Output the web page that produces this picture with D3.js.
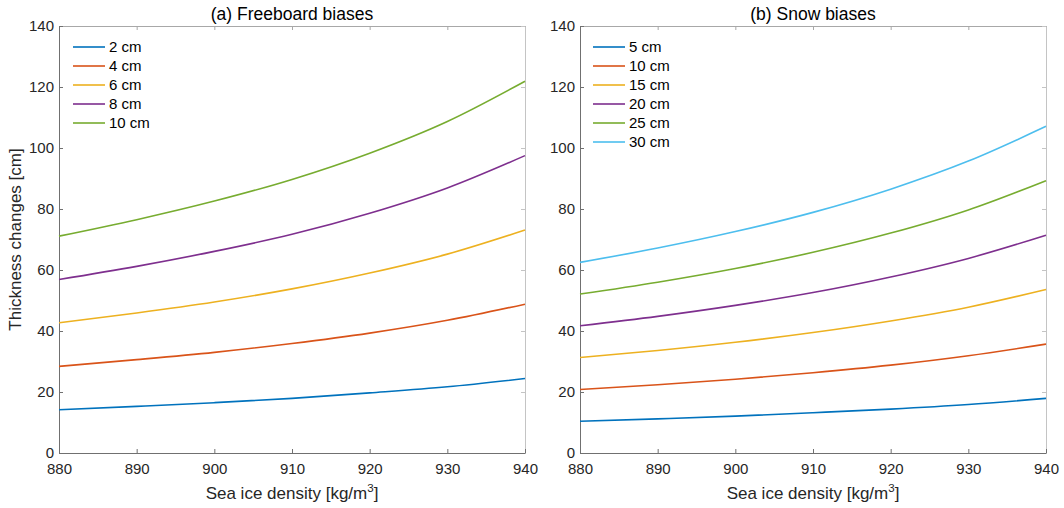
<!DOCTYPE html>
<html>
<head>
<meta charset="utf-8">
<script src="https://cdn.jsdelivr.net/npm/d3@7"></script>
<style>
  body { margin: 0; background: #fff; }
  svg { font-family: "Liberation Sans", Arial, Helvetica, sans-serif; }
  .axis text { fill: #262626; font-size: 15px; }
</style>
</head>
<body>
<div id="chart"></div>
<script>
// sea ice density sample points (kg/m3)
const density = [880, 890, 900, 910, 920, 930, 940];

// (a) freeboard biases
const freeboardLabels = ["2 cm", "4 cm", "6 cm", "8 cm", "10 cm"];
const fb2 = [14.2, 15.3, 16.5, 17.9, 19.7, 21.7, 24.4];
const fb4 = [28.4, 30.6, 33.0, 35.9, 39.3, 43.5, 48.8];
const fb6 = [42.7, 45.9, 49.5, 53.8, 59.0, 65.2, 73.1];
const fb8 = [56.9, 61.2, 66.1, 71.7, 78.6, 86.9, 97.5];
const fb10 = [71.1, 76.5, 82.6, 89.7, 98.3, 108.7, 121.9];

// (b) snow biases
const snowLabels = ["5 cm", "10 cm", "15 cm", "20 cm", "25 cm", "30 cm"];
const sn5 = [10.4, 11.2, 12.1, 13.2, 14.4, 15.9, 17.9];
const sn10 = [20.8, 22.4, 24.2, 26.3, 28.8, 31.9, 35.7];
const sn15 = [31.3, 33.6, 36.3, 39.5, 43.3, 47.8, 53.6];
const sn20 = [41.7, 44.8, 48.4, 52.6, 57.7, 63.8, 71.4];
const sn25 = [52.1, 56.0, 60.5, 65.8, 72.1, 79.7, 89.3];
const sn30 = [62.5, 67.2, 72.6, 78.9, 86.5, 95.7, 107.1];

const xTicks = [880, 890, 900, 910, 920, 930, 940];
const yTicks = [0, 20, 40, 60, 80, 100, 120, 140];
const colors = ["#0072BD", "#D95319", "#EDB120", "#7E2F8E", "#77AC30", "#4DBEEE"];

const W = 1064, H = 508;
const svg = d3.select("#chart").append("svg").attr("width", W).attr("height", H);

const plotTop = 26, plotBottom = 453;
const panels = [
    { left: 59, right: 525, title: "(a) Freeboard biases", labels: freeboardLabels,
      series: [fb2, fb4, fb6, fb8, fb10], legendX: 73 },
    { left: 580, right: 1046, title: "(b) Snow biases", labels: snowLabels,
      series: [sn5, sn10, sn15, sn20, sn25, sn30], legendX: 593 }
];

const y = d3.scaleLinear().domain([0, 140]).range([plotBottom, plotTop]);

panels.forEach((p, pi) => {
    const x = d3.scaleLinear().domain([880, 940]).range([p.left, p.right]);
    const g = svg.append("g");

    // box: top and right (lighter)
    g.append("g").attr("class", "axis").attr("transform", `translate(0,${plotTop})`)
        .call(d3.axisTop(x).tickValues(xTicks).tickSizeInner(-4).tickSizeOuter(0).tickFormat(""))
        .call(s => s.selectAll("path,line").attr("stroke", "#a8a8a8"));
    g.append("g").attr("class", "axis").attr("transform", `translate(${p.right},0)`)
        .call(d3.axisRight(y).tickValues(yTicks).tickSizeInner(-4).tickSizeOuter(0).tickFormat(""))
        .call(s => s.selectAll("path,line").attr("stroke", "#c4c4c4"));

    // bottom and left axes
    g.append("g").attr("class", "axis").attr("transform", `translate(0,${plotBottom})`)
        .call(d3.axisBottom(x).tickValues(xTicks).tickSizeInner(-4).tickSizeOuter(0).tickPadding(10))
        .call(s => s.selectAll("path,line").attr("stroke", "#707070"));
    g.append("g").attr("class", "axis").attr("transform", `translate(${p.left},0)`)
        .call(d3.axisLeft(y).tickValues(yTicks).tickSizeInner(-4).tickSizeOuter(0).tickPadding(5))
        .call(s => s.selectAll("path,line").attr("stroke", "#707070"));

    // curves
    const line = d3.line()
        .x((d, i) => x(density[i]))
        .y(d => y(d))
        .curve(d3.curveMonotoneX);
    p.series.forEach((s, i) => {
        g.append("path")
            .datum(s)
            .attr("d", line)
            .attr("fill", "none")
            .attr("stroke", colors[i])
            .attr("stroke-width", 1.6);
    });

    // legend
    p.labels.forEach((lab, i) => {
        const ly = 47 + i * 19;
        g.append("line")
            .attr("x1", p.legendX).attr("x2", p.legendX + 32)
            .attr("y1", ly).attr("y2", ly)
            .attr("stroke", colors[i]).attr("stroke-width", 1.6);
        g.append("text")
            .text(lab)
            .attr("x", p.legendX + 36).attr("y", ly)
            .attr("dy", "0.35em")
            .attr("font-size", "15px")
            .attr("fill", "#000");
    });

    const cx = (p.left + p.right) / 2;
    // title
    g.append("text")
        .text(p.title)
        .attr("x", cx).attr("y", 20)
        .attr("text-anchor", "middle")
        .attr("font-size", "17.5px")
        .attr("fill", "#000");

    // x label with superscript
    const xl = g.append("text")
        .attr("x", cx).attr("y", 499)
        .attr("text-anchor", "middle")
        .attr("font-size", "17px")
        .attr("fill", "#262626");
    xl.append("tspan").text("Sea ice density [kg/m");
    xl.append("tspan").text("3").attr("font-size", "11.5px").attr("dy", "-7");
    xl.append("tspan").text("]").attr("dy", "7");

    if (pi === 0) {
        g.append("text")
            .text("Thickness changes [cm]")
            .attr("transform", `translate(21,${(plotTop + plotBottom) / 2}) rotate(-90)`)
            .attr("text-anchor", "middle")
            .attr("font-size", "17px")
            .attr("fill", "#262626");
    }
});
</script>
</body>
</html>
